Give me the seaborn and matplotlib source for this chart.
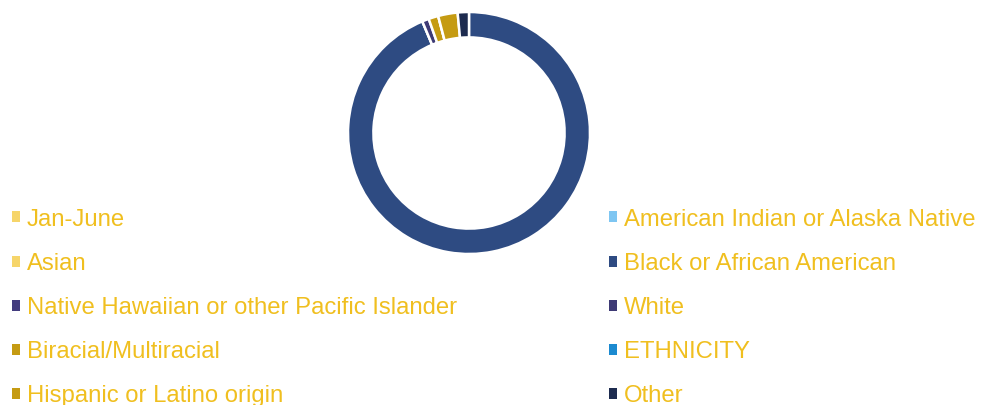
import matplotlib
matplotlib.use("Agg")
import matplotlib.pyplot as plt
from matplotlib.patches import Patch
import seaborn as sns

# Data (row-major order as in the original chart legend)
categories = ["Jan-June", "American Indian or Alaska Native", "Asian",
              "Black or African American",
              "Native Hawaiian or other Pacific Islander", "White",
              "Biracial/Multiracial", "ETHNICITY", "Hispanic or Latino origin", "Other"]
values = [0, 0, 0, 93.7, 0, 0.9, 1.3, 0, 2.6, 1.5]
colors = ["#F6D56A", "#7EC6F2", "#F6D56A", "#2E4B82", "#433C7E", "#3E3A75",
          "#C59B12", "#1B8AD0", "#C59B12", "#1D2B4F"]

sns.set_theme(style="white")
plt.rcParams['font.family'] = ['Liberation Sans', 'DejaVu Sans']

W, H = 981, 405
fig = plt.figure(figsize=(W / 100, H / 100), dpi=100)
fig.patch.set_facecolor("white")

cx, cy, r = 469, 133, 121
ax = fig.add_axes([(cx - r) / W, (H - cy - r) / H, 2 * r / W, 2 * r / H])
ax.pie(values, colors=colors, startangle=90, counterclock=False, radius=1,
       wedgeprops=dict(width=0.21, edgecolor="white", linewidth=1.8))
ax.set_xlim(-1, 1)
ax.set_ylim(-1, 1)
ax.set_aspect("equal")
ax.axis("off")

text_color = "#F0BF1F"
left_idx = [0, 2, 4, 6, 8]
right_idx = [1, 3, 5, 7, 9]

def make_legend(idx, x_px):
    handles = [Patch(facecolor=colors[i], edgecolor="none") for i in idx]
    labels = [categories[i] for i in idx]
    leg = fig.legend(handles, labels, loc="upper left",
                     bbox_to_anchor=(x_px / W, 1 - 208.5 / H),
                     frameon=False, fontsize=17.2, labelcolor=text_color,
                     handlelength=0.33, handleheight=0.33, handletextpad=0.3,
                     labelspacing=0.93, borderpad=0, borderaxespad=0)
    return leg

make_legend(left_idx, 12)
make_legend(right_idx, 609)

fig.savefig("out.png", dpi=100, facecolor="white")
